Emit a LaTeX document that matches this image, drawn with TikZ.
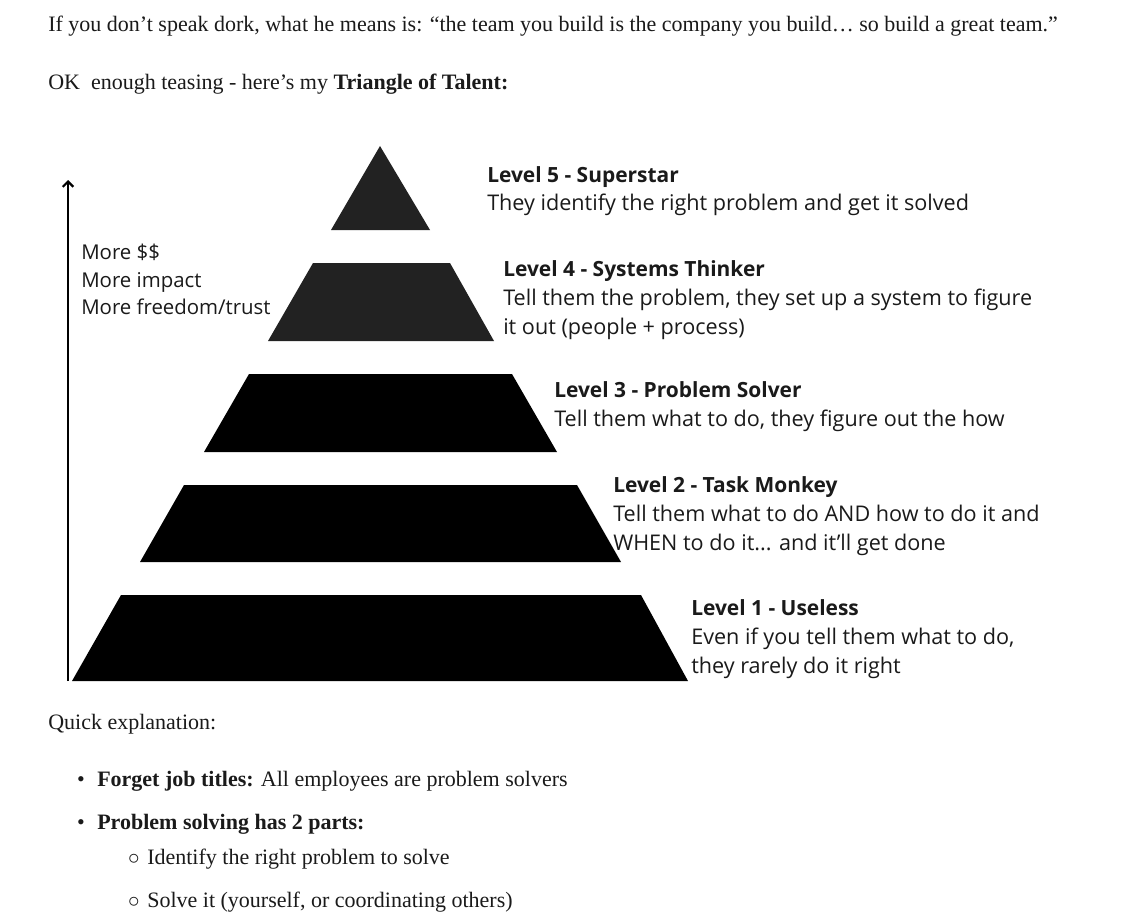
\documentclass[tikz,border=0pt]{standalone}
\usepackage{fontspec}
\setmainfont{Liberation Serif}
\newfontfamily\lvlfont{Open Sans}
\usetikzlibrary{arrows.meta}
\definecolor{ink}{HTML}{1A1A1A}
\definecolor{darktier}{HTML}{222222}
\begin{document}
\begin{tikzpicture}[x=0.75pt,y=-0.75pt,
  serif/.style={anchor=base west, inner sep=0pt, font=\fontsize{16.5}{20}\selectfont, text=ink},
  lvl/.style={anchor=base west, inner sep=0pt, font=\lvlfont\fontsize{16.2}{19}\selectfont, text=ink},
  lvltitle/.style={anchor=base west, inner sep=0pt, font=\lvlfont\bfseries\fontsize{15.7}{19}\selectfont, text=ink},
  sidenote/.style={anchor=base west, inner sep=0pt, font=\lvlfont\fontsize{15.3}{18}\selectfont, text=ink},
  tier/.style={fill=black},
  toptier/.style={fill=darktier},
  axis/.style={line width=2pt, draw=black, -{Straight Barb[length=4pt,width=8pt,line width=1.6pt]}}]
\useasboundingbox (0,0) rectangle (1144,920);
\fill[white] (0,0) rectangle (1144,920);

% intro text
\node[serif] (intro1) at (48,32) {If you don’t speak dork, what he means is: “the team you build is the company you build… so build a great team.”};
\node[serif] (intro2) at (48,90) {OK\ \ enough teasing - here’s my \textbf{Triangle of Talent:}};

% pyramid tiers
\fill[toptier] (380,146) -- (430,230) -- (331,230) -- cycle;
\fill[toptier] (313,263) -- (450,263) -- (494,341) -- (268,341) -- cycle;
\fill[tier] (249,374) -- (512,374) -- (557,452) -- (204,452) -- cycle;
\fill[tier] (184,485) -- (577,485) -- (621,562) -- (140,562) -- cycle;
\fill[tier] (121,595) -- (641,595) -- (688,681) -- (72,681) -- cycle;

% axis
\coordinate (axisbot) at (68,681);
\coordinate (axistop) at (68,180);
\draw[axis] (axisbot) -- (axistop);

\node[sidenote] (more1) at (81,259) {More \$\$};
\node[sidenote] (more2) at (81,287) {More impact};
\node[sidenote] (more3) at (81,314) {More freedom/trust};

% level texts
\node[lvltitle] (l5t) at (487,182) {Level 5 - Superstar};
\node[lvl] (l5a) at (487,210) {They identify the right problem and get it solved};

\node[lvltitle] (l4t) at (503,276) {Level 4 - Systems Thinker};
\node[lvl] (l4a) at (503,305) {Tell them the problem, they set up a system to figure};
\node[lvl] (l4b) at (503,334) {it out (people + process)};

\node[lvltitle] (l3t) at (554,397) {Level 3 - Problem Solver};
\node[lvl] (l3a) at (554,426) {Tell them what to do, they figure out the how};

\node[lvltitle] (l2t) at (613,492) {Level 2 - Task Monkey};
\node[lvl] (l2a) at (613,521) {Tell them what to do AND how to do it and};
\node[lvl] (l2b) at (613,550) {WHEN to do it... and it’ll get done};

\node[lvltitle] (l1t) at (691,615) {Level 1 - Useless};
\node[lvl] (l1a) at (691,644) {Even if you tell them what to do,};
\node[lvl] (l1b) at (691,673) {they rarely do it right};

% explanation
\node[serif] (quick) at (48,729) {Quick explanation:};
\node[serif, anchor=base] (b1) at (81,786) {•};
\node[serif] (b1t) at (97,786) {\textbf{Forget job titles:} All employees are problem solvers};
\node[serif, anchor=base] (b2) at (81,829) {•};
\node[serif] (b2t) at (97,829) {\textbf{Problem solving has 2 parts:}};
\node[serif, anchor=base] (s1) at (134,864) {$\circ$};
\node[serif] (s1t) at (147,864) {Identify the right problem to solve};
\node[serif, anchor=base] (s2) at (134,907) {$\circ$};
\node[serif] (s2t) at (147,907) {Solve it (yourself, or coordinating others)};
\end{tikzpicture}
\end{document}
